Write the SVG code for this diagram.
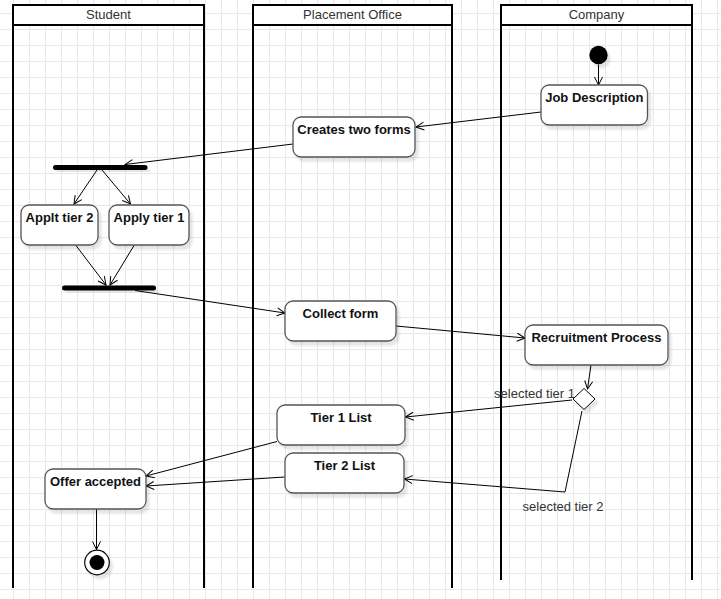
<svg xmlns="http://www.w3.org/2000/svg" width="721" height="599" viewBox="0 0 721 599">
  <defs>
    <pattern id="grid" x="13" y="13" width="16" height="16" patternUnits="userSpaceOnUse">
      <path d="M16.5 0.5 H0.5 V16.5" fill="none" stroke="#e8e8e8" stroke-width="1"/>
    </pattern>
    <filter id="shadow" x="-20%" y="-20%" width="150%" height="160%">
      <feDropShadow dx="3" dy="4" stdDeviation="1.2" flood-color="#000" flood-opacity="0.1"/>
    </filter>
    <marker id="open" viewBox="0 0 10 10" refX="9" refY="5" markerWidth="10" markerHeight="10" markerUnits="userSpaceOnUse" orient="auto">
      <path d="M1,1 L9,5 L1,9" fill="none" stroke="#000" stroke-width="1"/>
    </marker>
  </defs>
  <style>
    .lane { fill: none; stroke: #000; stroke-width: 2; }
    .head { fill: #fff; stroke: #000; stroke-width: 2; }
    .htxt { font-family: "Liberation Sans", Arial, sans-serif; font-size: 13px; fill: #333; text-anchor: middle; }
    .act { fill: #fff; stroke: #555; stroke-width: 1.3; filter: url(#shadow); }
    .atxt { font-family: "Liberation Sans", Arial, sans-serif; font-size: 13px; font-weight: bold; fill: #111; text-anchor: middle; }
    .bar { fill: #000; filter: url(#shadow); }
    .edge { fill: none; stroke: #000; stroke-width: 1; marker-end: url(#open); }
    .lbl { font-family: "Liberation Sans", Arial, sans-serif; font-size: 13px; fill: #333; text-anchor: middle; }
  </style>

  <rect width="721" height="599" fill="#fff"/>
  <rect width="721" height="599" fill="url(#grid)"/>

  <!-- swimlanes -->
  <g id="lane-student">
    <path class="lane" d="M13 588 V5 H204 V588"/>
    <rect class="head" x="13" y="5" width="191" height="20"/>
    <text class="htxt" x="108.5" y="19">Student</text>
  </g>
  <g id="lane-placement-office">
    <path class="lane" d="M253 588 V5 H452 V588"/>
    <rect class="head" x="253" y="5" width="199" height="20"/>
    <text class="htxt" x="352.5" y="19">Placement Office</text>
  </g>
  <g id="lane-company">
    <path class="lane" d="M501 580 V5 H692 V580"/>
    <rect class="head" x="501" y="5" width="191" height="20"/>
    <text class="htxt" x="596.5" y="19">Company</text>
  </g>

  <!-- connectors -->
  <g id="connectors">
    <path class="edge" d="M598.5 64.5 L598.5 85"/>
    <path class="edge" d="M541 112 L416 127"/>
    <path class="edge" d="M293 144 L125 164.5"/>
    <path class="edge" d="M97 170 L74 204"/>
    <path class="edge" d="M102 170 L130.5 204"/>
    <path class="edge" d="M76 245.5 L106 285"/>
    <path class="edge" d="M134 245.5 L110 285"/>
    <path class="edge" d="M135 290.5 L285 313"/>
    <path class="edge" d="M396 326 L525 338"/>
    <path class="edge" d="M591 365 L587.5 389"/>
    <path class="edge" d="M572 400 L405.5 417"/>
    <path class="edge" d="M582 411 L565 492 L404.5 479"/>
    <path class="edge" d="M277 441.5 L146 476"/>
    <path class="edge" d="M284.5 477 L146 486"/>
    <path class="edge" d="M96.5 509 L96.5 549.5"/>
    <text class="lbl" x="534.5" y="397.5">selected tier 1</text>
    <text class="lbl" x="563" y="510.5">selected tier 2</text>
  </g>

  <!-- nodes -->
  <g id="start">
    <circle cx="598.5" cy="55" r="9.2" fill="#000" filter="url(#shadow)"/>
  </g>
  <g id="job-description">
    <rect class="act" x="541" y="85" width="106.5" height="40" rx="8"/>
    <text class="atxt" x="594.3" y="101.5">Job Description</text>
  </g>
  <g id="creates-two-forms">
    <rect class="act" x="293" y="117" width="122" height="40" rx="8"/>
    <text class="atxt" x="354" y="133.5">Creates two forms</text>
  </g>
  <g id="fork">
    <rect class="bar" x="53" y="165" width="94.5" height="5" rx="2.5"/>
  </g>
  <g id="applt-tier-2">
    <rect class="act" x="21" y="205" width="77" height="40" rx="8"/>
    <text class="atxt" x="59.5" y="221.5">Applt tier 2</text>
  </g>
  <g id="apply-tier-1">
    <rect class="act" x="109" y="205" width="80" height="40" rx="8"/>
    <text class="atxt" x="149" y="221.5">Apply tier 1</text>
  </g>
  <g id="join">
    <rect class="bar" x="62" y="285.5" width="94" height="5" rx="2.5"/>
  </g>
  <g id="collect-form">
    <rect class="act" x="285" y="301" width="111" height="40" rx="8"/>
    <text class="atxt" x="340.5" y="318">Collect form</text>
  </g>
  <g id="recruitment-process">
    <rect class="act" x="525" y="325" width="143" height="40" rx="8"/>
    <text class="atxt" x="596.5" y="341.5">Recruitment Process</text>
  </g>
  <g id="decision">
    <polygon points="584,388.5 595,399 584,409.5 573,399" fill="#fff" stroke="#000" stroke-width="1" filter="url(#shadow)"/>
  </g>
  <g id="tier-1-list">
    <rect class="act" x="277" y="405" width="128" height="40" rx="8"/>
    <text class="atxt" x="341" y="421.5">Tier 1 List</text>
  </g>
  <g id="tier-2-list">
    <rect class="act" x="285" y="453" width="119" height="40" rx="8"/>
    <text class="atxt" x="344.5" y="469.5">Tier 2 List</text>
  </g>
  <g id="offer-accepted">
    <rect class="act" x="45" y="469" width="101" height="40" rx="8"/>
    <text class="atxt" x="95.5" y="485.5">Offer accepted</text>
  </g>
  <g id="end">
    <circle cx="97" cy="562.5" r="12.3" fill="#fff" stroke="#000" stroke-width="1.2" filter="url(#shadow)"/>
    <circle cx="97" cy="562.5" r="7.5" fill="#000"/>
  </g>
</svg>
